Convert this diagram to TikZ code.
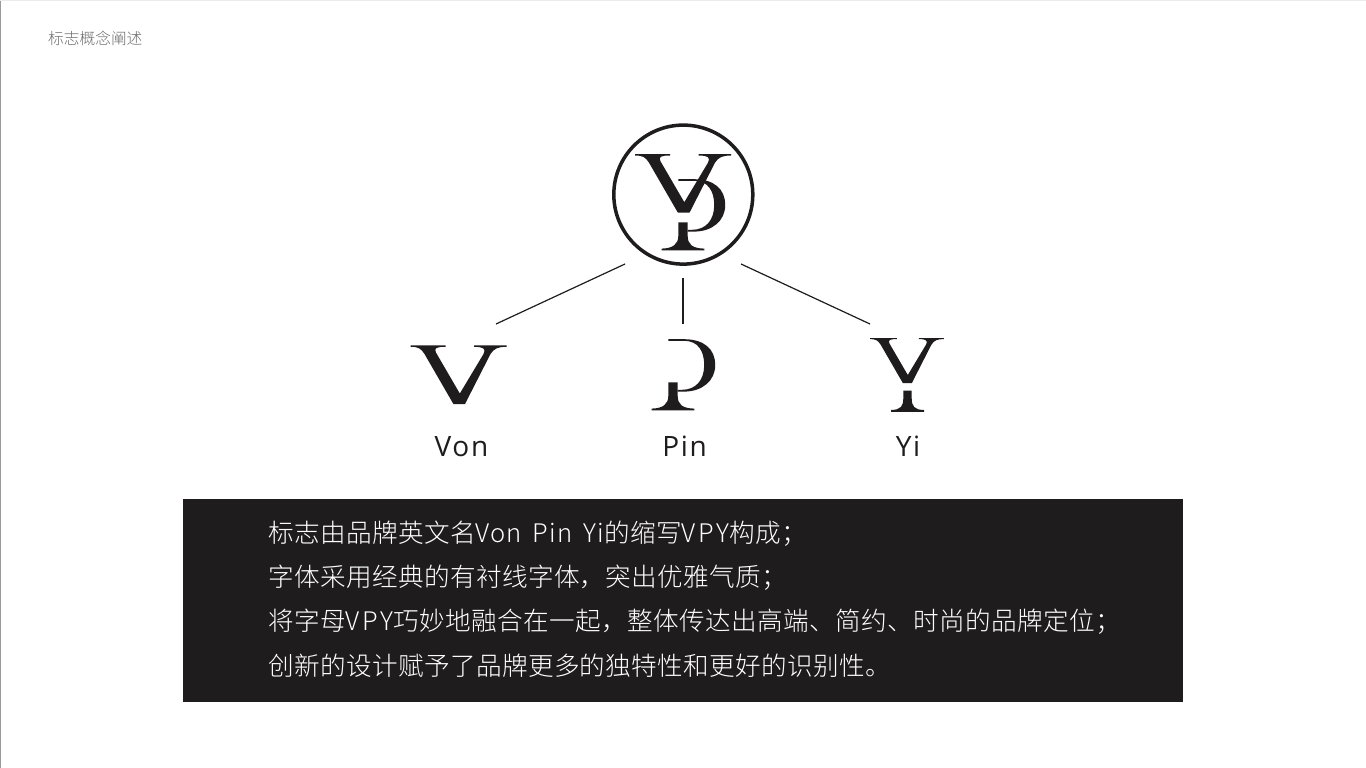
\documentclass[tikz,border=0pt]{standalone}
\usepackage{fontspec}
\setmainfont{Open Sans}
\newfontfamily\cjk{Noto Sans CJK SC Light}
\newfontfamily\cjkspaced[LetterSpace=1.5]{Noto Sans CJK SC Light}
\newfontfamily\latwide[LetterSpace=4.5,WordSpace=1.6]{Noto Sans CJK SC Light}
\newfontfamily\capwide[LetterSpace=11]{Noto Sans CJK SC Light}
\newfontfamily\labfont[LetterSpace=6]{Open Sans}
\definecolor{ink}{HTML}{1F1C1D}
\definecolor{headgrey}{HTML}{6E6E6E}
\definecolor{edgegrey}{HTML}{9A9A9A}
\tikzset{
  glyph/.style={fill=ink,draw=none},
  connector/.style={draw=ink,line width=1.2pt},
  namelabel/.style={font=\labfont\fontsize{28}{30}\selectfont,text=ink,inner sep=0pt,anchor=center},
  bodyline/.style={font=\cjkspaced\fontsize{25.6}{30}\selectfont,text=white,inner sep=0pt,anchor=west},
  headline/.style={font=\cjk\fontsize{15.7}{18}\selectfont,text=headgrey,inner sep=0pt,anchor=west},
  plate/.style={fill=ink,draw=none,minimum width=1000pt,minimum height=203pt,inner sep=0pt}
}
\newcommand{\vglyph}{%
  \fill[glyph] (410.7,345.4) -- (445.7,345.4) -- (445.7,346.8)
    .. controls (437,346.8) and (433.5,347.8) .. (436,352.6)
    -- (459.8,393.5) -- (483.5,354)
    .. controls (486.5,348.6) and (483,346.8) .. (474,346.8)
    -- (474,345.4) -- (506.7,345.4) -- (506.7,346.8)
    .. controls (498,346.8) and (494,348.5) .. (490.5,354)
    -- (465,404) -- (453.4,404) -- (424.5,354)
    .. controls (421,348.4) and (418,346.8) .. (410.7,346.8) -- cycle;}
\newcommand{\pglyph}{%
  \fill[glyph] (668.3,339.2) -- (684,339.2)
    .. controls (704,339.2) and (715.2,349) .. (715.2,365)
    .. controls (715.2,381) and (702,391.6) .. (684,391.6)
    -- (677.7,391.6) -- (677.7,389.8) -- (682,389.8)
    .. controls (696,389.8) and (704.2,380) .. (704.2,365)
    .. controls (704.2,351) and (698,340.8) .. (684,340.8)
    -- (668.3,340.8) -- cycle;
  \fill[glyph] (668.3,382.3) -- (677.7,382.3) -- (677.7,396)
    .. controls (677.7,404) and (682,408.4) .. (694.3,408.6)
    -- (694.3,410.4) -- (651.7,410.4) -- (651.7,408.6)
    .. controls (663,408.4) and (668.3,404) .. (668.3,396) -- cycle;}
\begin{document}
\begin{tikzpicture}[x=1pt,y=-1pt]
\useasboundingbox (0,0) rectangle (1366,768);
\fill[white] (0,0) rectangle (1366,768);
\fill[edgegrey] (0,0) rectangle (1.3,768);
\fill[black!8] (0,0) rectangle (1366,0.8);

\node[headline] (head) at (48,38) {标志概念阐述};

% logo
\node[circle,draw=ink,line width=3.5pt,minimum size=139pt,inner sep=0pt] (logo) at (683.3,194.6) {};
\begin{scope}[shift={(224.5,-191.3)}]\vglyph\end{scope}
\begin{scope}[shift={(10,-160)}]\pglyph\end{scope}

% letters
\vglyph
\pglyph
\begin{scope}[shift={(870,338)},scale=0.77,shift={(-410.7,-345.4)}]\vglyph\end{scope}
\fill[glyph] (903.3,390.7) -- (911.7,390.7) -- (911.7,398)
  .. controls (911.7,406) and (914,409.8) .. (924,410)
  -- (924,411.8) -- (891,411.8) -- (891,410)
  .. controls (901,409.8) and (903.3,406) .. (903.3,398) -- cycle;

% connectors
\coordinate (c1a) at (625,264); \coordinate (c1b) at (496,324);
\coordinate (c2a) at (683,278); \coordinate (c2b) at (683,324);
\coordinate (c3a) at (741,264); \coordinate (c3b) at (870,324);
\draw[connector] (c1a) -- (c1b);
\draw[connector] (c2a) -- (c2b);
\draw[connector] (c3a) -- (c3b);

\node[namelabel] (von) at (461.5,446.5) {Von};
\node[namelabel] (pin) at (684.5,446.5) {Pin};
\node[namelabel] (yi) at (908,446.5) {Yi};

% text plate
\node[plate] (box) at (683,600) {};
\node[bodyline] (l1) at (268,533.5) {标志由品牌英文名{\latwide Von Pin Yi}的缩写{\capwide VPY}构成；};
\node[bodyline] (l2) at (268,577.5) {字体采用经典的有衬线字体，突出优雅气质；};
\node[bodyline] (l3) at (268,621.5) {将字母{\capwide VPY}巧妙地融合在一起，整体传达出高端、简约、时尚的品牌定位；};
\node[bodyline] (l4) at (268,665.5) {创新的设计赋予了品牌更多的独特性和更好的识别性。};
\end{tikzpicture}
\end{document}
